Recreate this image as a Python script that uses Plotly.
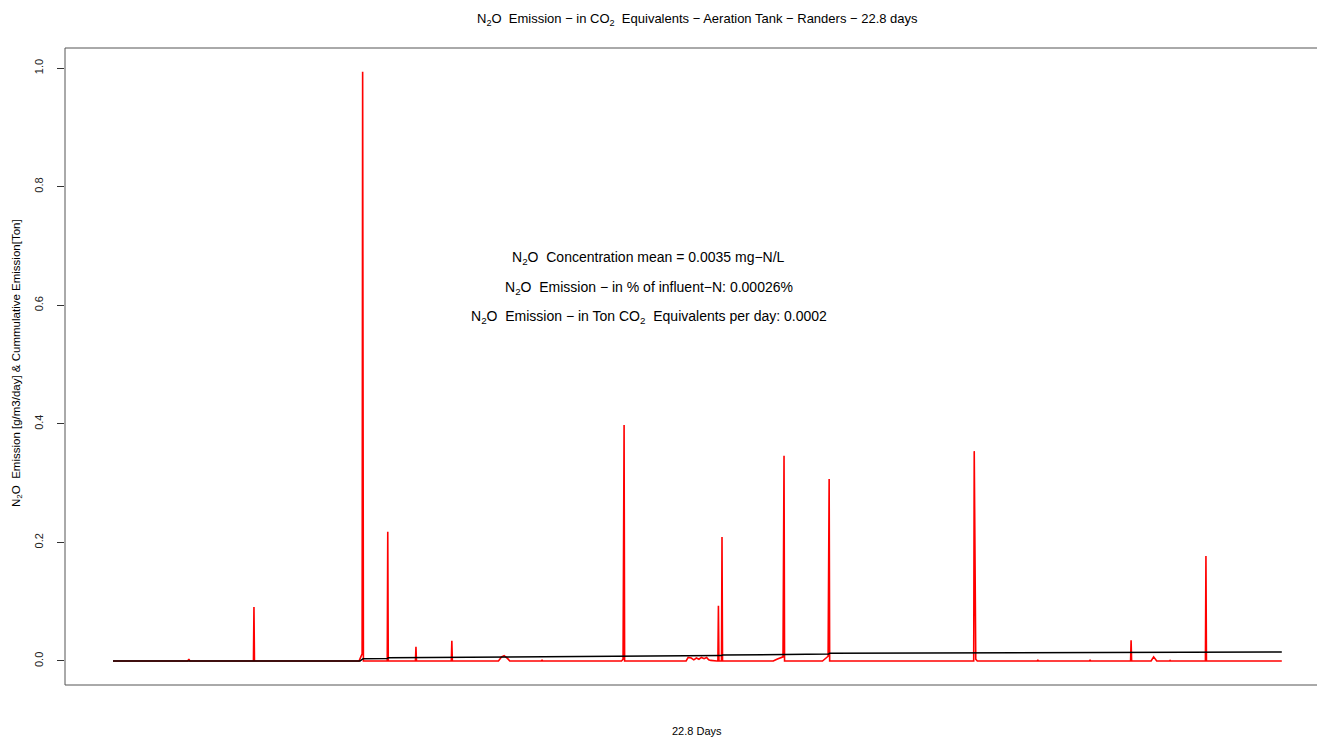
import plotly.graph_objects as go

# N2O emission (red) – day, value [g/m3/day]
em_days = [0, 1.46, 1.48, 1.50, 2.74, 2.75, 2.76,
           4.80, 4.83, 4.86, 4.87, 4.875, 4.88, 4.885,
           5.35, 5.36, 5.37, 5.90, 5.91, 5.92, 6.60, 6.61, 6.62,
           7.52, 7.58, 7.63, 7.70, 7.74, 8.36, 8.37, 8.38,
           9.92, 9.95, 9.97, 9.98,
           11.18, 11.22, 11.28, 11.33, 11.38, 11.43, 11.48, 11.53, 11.58, 11.62, 11.66, 11.78,
           11.80, 11.81, 11.82, 11.87, 11.88, 11.89,
           12.88, 12.95, 13.02, 13.07, 13.09, 13.10,
           13.84, 13.90, 13.95, 13.97, 13.98,
           16.79, 16.80, 16.83, 16.86,
           18.03, 18.04, 18.05, 19.05, 19.06, 19.07,
           19.85, 19.86, 19.87, 20.25, 20.30, 20.36,
           20.61, 20.62, 20.63, 21.31, 21.32, 21.33, 22.8]
em_vals = [0, 0, 0.003, 0, 0, 0.091, 0,
           0, 0.006, 0.012, 0.994, 0.59, 0.50, 0,
           0, 0.218, 0, 0, 0.024, 0, 0, 0.034, 0,
           0, 0.007, 0.009, 0.004, 0, 0, 0.002, 0,
           0, 0.003, 0.398, 0,
           0, 0.006, 0.005, 0.002, 0.005, 0.003, 0.006, 0.004, 0.006, 0.002, 0.001, 0,
           0, 0.093, 0, 0, 0.209, 0,
           0, 0.003, 0.006, 0.007, 0.346, 0,
           0, 0.004, 0.008, 0.307, 0,
           0, 0.354, 0.003, 0,
           0, 0.002, 0, 0, 0.002, 0,
           0, 0.035, 0, 0, 0.007, 0,
           0, 0.001, 0, 0, 0.177, 0, 0]

# Cumulative emission (black) [Ton]
cum_days = [0, 4.82, 4.88, 5.35, 5.37, 9.96, 9.98, 11.87, 11.89,
            13.08, 13.10, 13.96, 13.98, 16.80, 16.82, 19.86, 21.31, 21.33, 22.8]
cum_vals = [0, 0.0001, 0.0039, 0.0041, 0.0056, 0.0073, 0.0084, 0.0092, 0.0101,
            0.0105, 0.0113, 0.0117, 0.0130, 0.0135, 0.0140, 0.0144, 0.0147, 0.0151, 0.0152]

y_ticks = [0.0, 0.2, 0.4, 0.6, 0.8, 1.0]
y_tick_labels = ["0.0", "0.2", "0.4", "0.6", "0.8", "1.0"]

title_text = ("N<sub>2</sub>O  Emission \u2212 in CO<sub>2</sub>  Equivalents \u2212 "
              "Aeration Tank \u2212 Randers \u2212 22.8 days")
x_title = "22.8 Days"
y_title = "N<sub>2</sub>O  Emission [g/m3/day] & Cummulative Emission[Ton]"

info_lines = [
    "N<sub>2</sub>O  Concentration mean = 0.0035 mg\u2212N/L",
    "N<sub>2</sub>O  Emission \u2212 in % of influent\u2212N: 0.00026%",
    "N<sub>2</sub>O  Emission \u2212 in Ton CO<sub>2</sub>  Equivalents per day: 0.0002",
]
info_y = [0.68, 0.63, 0.58]
info_x = 10.45

FONT = "Liberation Sans, Arial, sans-serif"
# figure is slightly wider than the window so the box's right side is cut off
W, H = 1330, 738
L, T, B = 65, 48, 53
PW, PH = W - L, H - T - B

fig = go.Figure()
fig.add_trace(go.Scatter(x=em_days, y=em_vals, mode="lines",
                         line=dict(color="#FF0000", width=1.6), showlegend=False,
                         hoverinfo="skip"))
fig.add_trace(go.Scatter(x=cum_days, y=cum_vals, mode="lines",
                         line=dict(color="#000000", width=1.5), showlegend=False,
                         hoverinfo="skip"))

for t, yy in zip(info_lines, info_y):
    fig.add_annotation(x=info_x, y=yy, xref="x", yref="y", text=t, showarrow=False,
                       font=dict(family=FONT, size=14, color="#000"),
                       xanchor="center", yanchor="middle")

# main title
fig.add_annotation(x=(697 - L) / PW, y=(H - B - 20) / PH, xref="paper", yref="paper",
                   text=title_text, showarrow=False, xanchor="center", yanchor="middle",
                   font=dict(family=FONT, size=13, color="#000"))
# x axis title
fig.add_annotation(x=(697 - L) / PW, y=(H - B - 731) / PH, xref="paper", yref="paper",
                   text=x_title, showarrow=False, xanchor="center", yanchor="middle",
                   font=dict(family=FONT, size=11, color="#000"))
# y axis title
fig.add_annotation(x=(17 - L) / PW, y=(H - B - 363) / PH, xref="paper", yref="paper",
                   text=y_title, showarrow=False, xanchor="center", yanchor="middle",
                   textangle=-90, font=dict(family=FONT, size=11.5, color="#000"))

fig.update_layout(
    width=W, height=H,
    margin=dict(l=L, r=0, t=T, b=B, pad=0),
    paper_bgcolor="white", plot_bgcolor="white",
    font=dict(family=FONT, size=11, color="#000"),
    xaxis=dict(range=[-0.936, 23.74], showgrid=False, zeroline=False,
               showticklabels=False, ticks="", showline=False),
    yaxis=dict(range=[-0.0405, 1.034], showgrid=False, zeroline=False,
               tickvals=y_ticks, ticktext=y_tick_labels, ticks="outside",
               ticklen=7, tickcolor="#333", tickangle=-90, ticklabelstandoff=10,
               tickfont=dict(family=FONT, size=11, color="#222"), showline=False),
)
# plot box (right side runs past the window edge)
box = dict(type="line", xref="paper", yref="paper", line=dict(color="#555", width=1))
fig.add_shape(**box, x0=0, x1=1, y0=1, y1=1)
fig.add_shape(**box, x0=0, x1=1, y0=0, y1=0)
fig.add_shape(**box, x0=0, x1=0, y0=0, y1=1)

fig.write_html("out.html", config={"displayModeBar": False},
               post_script="document.body.style.margin='0px';"
                           "document.body.style.overflow='hidden';")
